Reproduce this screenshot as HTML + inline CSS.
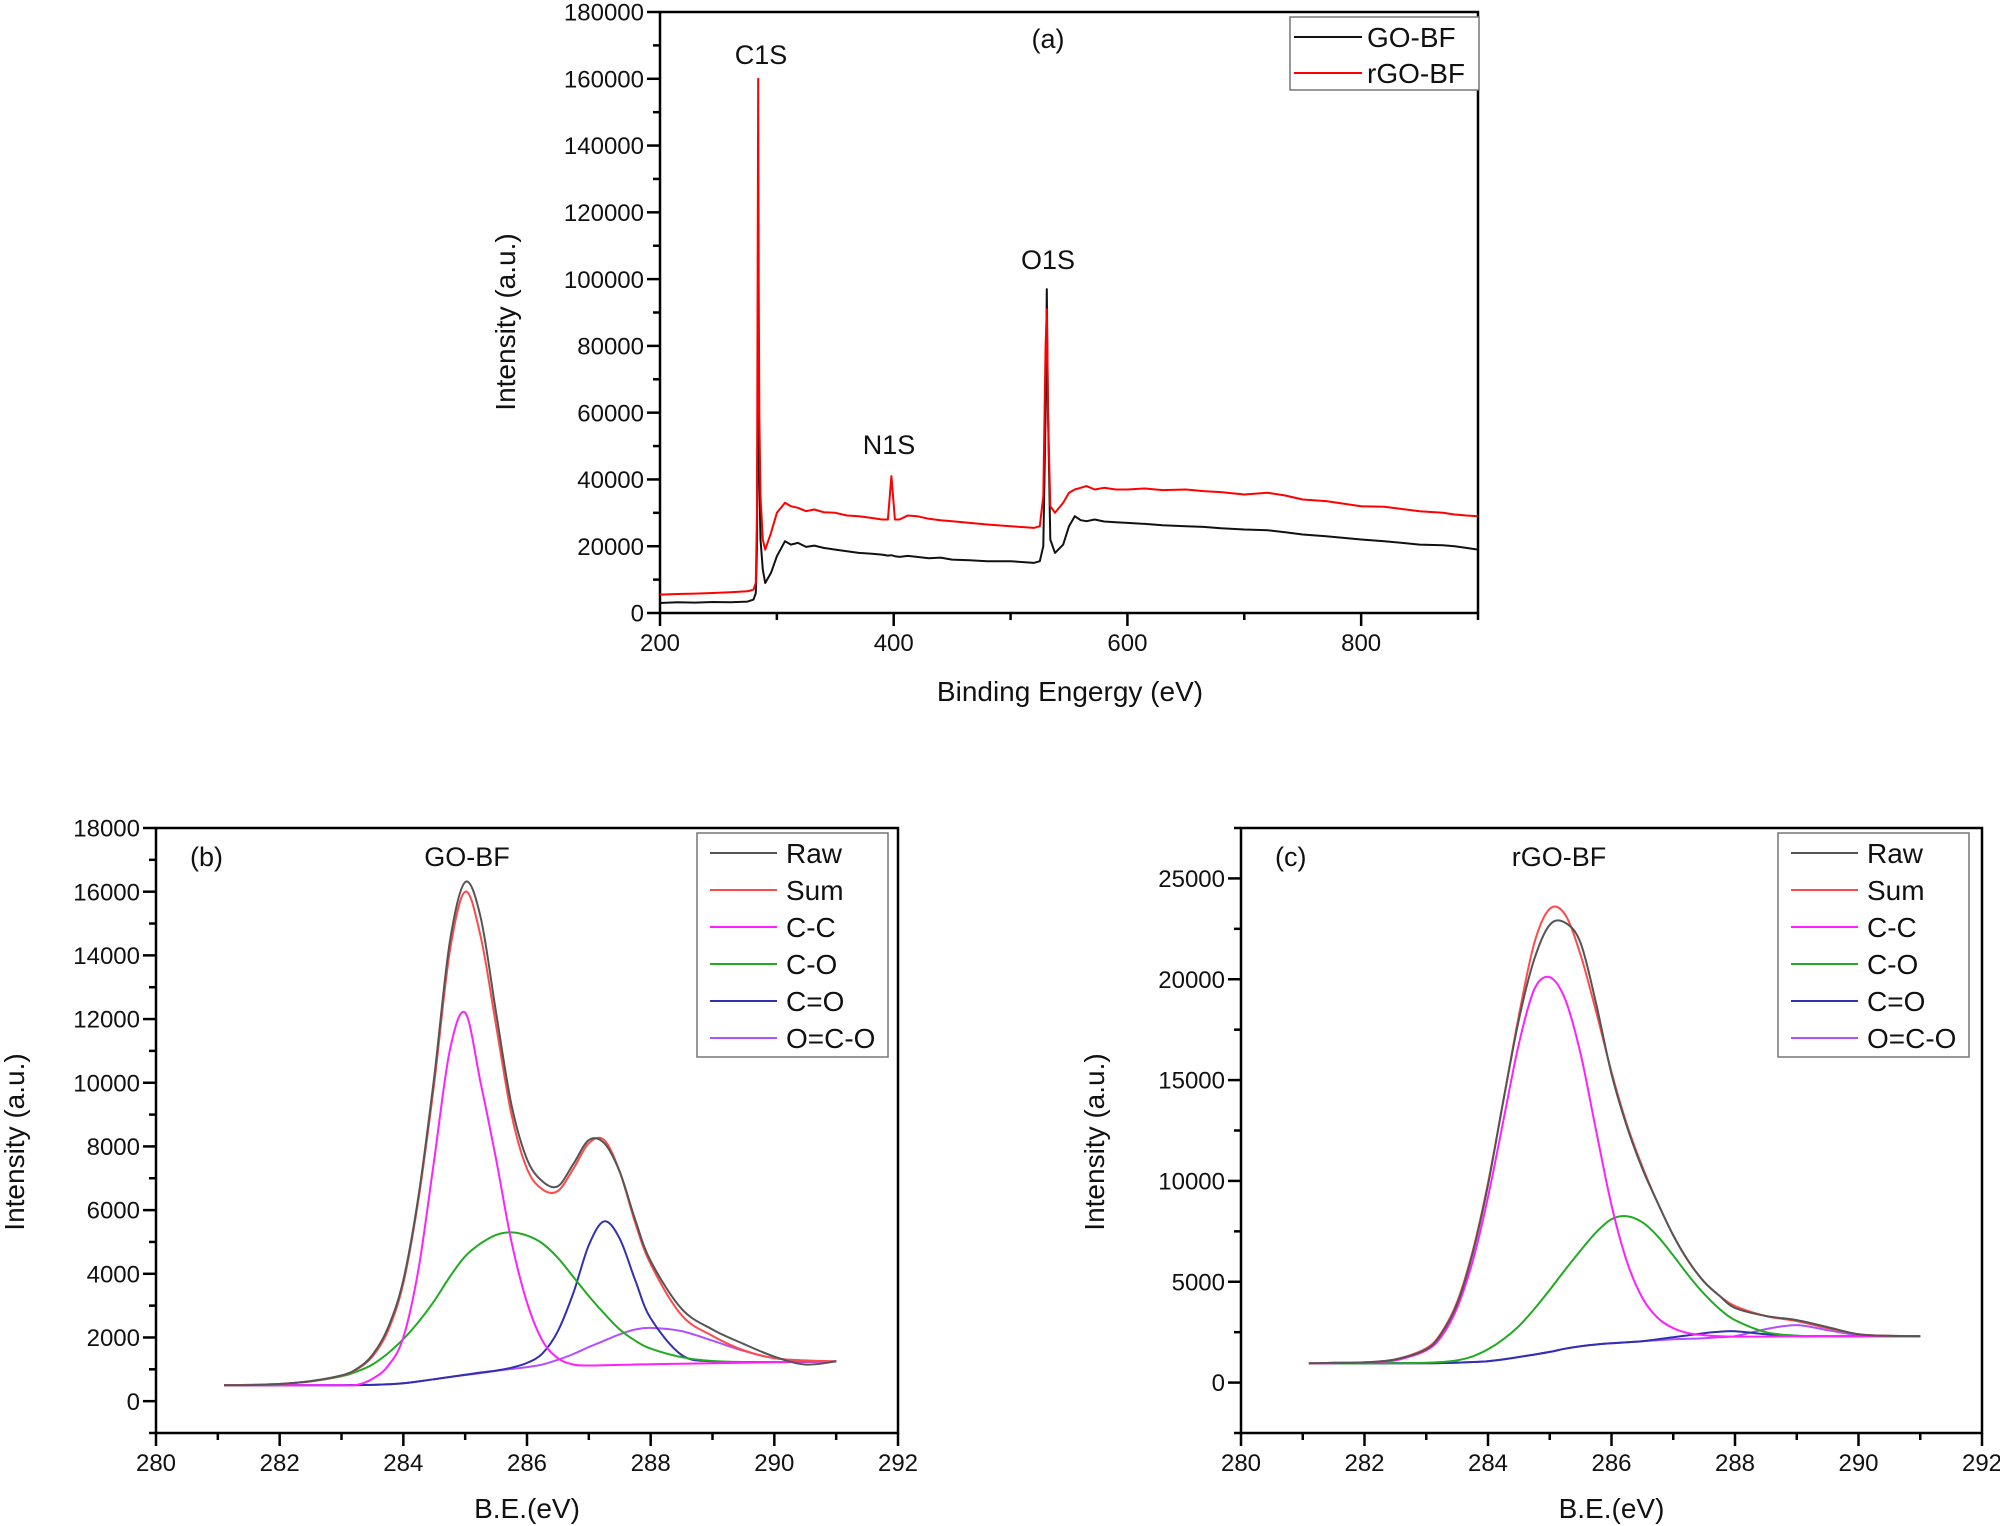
<!DOCTYPE html>
<html><head><meta charset="utf-8"><style>
html,body{margin:0;padding:0;background:#fff;}
svg{display:block;font-family:"Liberation Sans",Arial,sans-serif;}
</style></head><body>
<svg id="fig" width="2000" height="1526" viewBox="0 0 2000 1526" xmlns="http://www.w3.org/2000/svg">
<rect width="2000" height="1526" fill="#fff"/>
</svg>
<script>
// ---------- Panel (a) survey data ----------
const aX = [200,215,230,245,260,275,280,282,283,284,284.5,285,286,288,290,295,300,307,312,318,325,332,340,350,360,370,380,390,395,398,401,405,412,420,430,440,450,465,480,500,520,525,528,530,531,532,534,538,545,550,555,560,565,572,580,590,600,615,630,650,665,680,700,720,735,750,770,800,820,850,870,880,890,900];
const aGO = [3000,3200,3100,3300,3200,3400,4000,6000,20000,100000,60000,40000,22000,13000,9000,12000,17000,21500,20500,21000,19800,20200,19500,19000,18500,18000,17800,17500,17200,17300,17000,16800,17100,16800,16400,16600,16000,15800,15500,15500,15000,15500,20000,60000,97000,60000,22000,18000,20500,26000,29000,27800,27500,28000,27400,27200,27000,26700,26300,26000,25800,25400,25000,24800,24200,23500,23000,22000,21500,20500,20300,20000,19500,19000];
const aRGO = [5500,5700,5800,6000,6200,6500,7000,9000,30000,160000,100000,60000,35000,22000,19000,24000,30000,33000,32000,31500,30500,31000,30200,30000,29200,29000,28500,28000,28000,41000,28000,28000,29200,29000,28200,27800,27500,27000,26500,26000,25500,26000,35000,80000,91000,60000,32000,30000,33000,36000,37000,37500,38000,37000,37500,37000,37000,37300,36800,37000,36500,36200,35500,36000,35200,34000,33500,32000,31800,30500,30000,29500,29200,29000];
const aYTicks = [0,20000,40000,60000,80000,100000,120000,140000,160000,180000];
const aXTicks = [200,400,600,800];

// ---------- Panel (b) GO-BF ----------
const bX = [281.1,281.5,282,282.5,283,283.25,283.5,283.75,284,284.25,284.5,284.75,285,285.25,285.5,285.75,286,286.25,286.5,286.75,287,287.25,287.5,287.75,288,288.5,289,289.5,290,290.5,291];
const bRaw = [500,505,540,630,810,1020,1450,2300,3800,6500,10200,14400,16300,15200,12200,9300,7600,6900,6750,7450,8200,8100,7200,5700,4400,2900,2250,1800,1400,1150,1250];
const bSum = [500,510,540,620,800,1000,1400,2200,3700,6400,10000,14100,16000,14600,11800,9000,7300,6650,6600,7300,8100,8200,7200,5600,4300,2700,2050,1600,1350,1280,1250];
const bCC = [500,500,500,500,500,510,700,1100,2000,4200,7600,11000,12200,10000,7600,5000,3100,1900,1350,1150,1120,1130,1140,1150,1160,1175,1190,1205,1220,1235,1250];
const bCO = [500,510,540,620,780,930,1150,1500,1950,2500,3150,3900,4550,4950,5220,5300,5200,4950,4500,3900,3300,2750,2250,1900,1650,1380,1260,1230,1230,1230,1250];
const bCdO = [500,500,500,500,500,505,510,530,560,620,690,760,830,900,960,1050,1200,1500,2200,3400,4900,5650,5100,3800,2600,1450,1250,1230,1230,1240,1250];
const bOCO = [500,500,500,500,500,505,510,530,560,620,690,760,820,880,950,1010,1070,1150,1300,1480,1700,1900,2100,2250,2300,2200,1900,1580,1350,1270,1250];
const bYTicks = [0,2000,4000,6000,8000,10000,12000,14000,16000,18000];
const bXTicks = [280,282,284,286,288,290,292];

// ---------- Panel (c) rGO-BF ----------
const cX = bX;
const cRaw = [950,980,1000,1150,1650,2450,3900,6400,9800,14000,18000,21000,22700,22800,21800,18800,15300,12700,10600,8900,7300,6000,5000,4300,3700,3300,3100,2750,2400,2320,2300];
const cSum = [950,980,1000,1150,1700,2500,4000,6500,9900,14000,18200,21800,23500,23200,21200,18400,15400,12800,10700,8900,7300,6000,5000,4300,3800,3300,3050,2700,2400,2320,2300];
const cCC = [950,960,1000,1100,1600,2300,3700,6000,9200,13000,16800,19500,20100,19000,16300,12500,8800,6000,4200,3200,2700,2450,2350,2300,2280,2280,2290,2300,2300,2300,2300];
const cCO = [950,950,950,960,980,1020,1100,1300,1650,2150,2800,3650,4600,5600,6550,7450,8100,8250,7950,7250,6300,5300,4400,3650,3100,2500,2330,2300,2300,2300,2300];
const cCdO = [950,950,950,955,960,970,990,1020,1060,1150,1270,1390,1520,1680,1800,1890,1950,2000,2050,2150,2250,2350,2450,2520,2550,2400,2300,2300,2300,2300,2300];
const cOCO = [950,950,950,955,960,970,990,1020,1060,1150,1270,1390,1520,1680,1800,1890,1950,2000,2050,2100,2150,2170,2200,2250,2300,2650,2850,2600,2350,2300,2300];
const cYTicks = [0,5000,10000,15000,20000,25000];
const cXTicks = [280,282,284,286,288,290,292];

const legendNames = ['Raw','Sum','C-C','C-O','C=O','O=C-O'];
const colors = ['#555555','#ff4a4a','#ff20ff','#22aa22','#3030b0','#b050ff'];

const NS = 'http://www.w3.org/2000/svg';
const svg = document.getElementById('fig');
function mk(tag, attrs, parent, text){
  const e = document.createElementNS(NS, tag);
  for (const k in attrs) e.setAttribute(k, attrs[k]);
  if (text !== undefined) e.textContent = text;
  (parent||svg).appendChild(e);
  return e;
}
function scale(d0,d1,r0,r1){ return v => r0 + (v-d0)/(d1-d0)*(r1-r0); }
function linePath(xs, ys, sx, sy){
  let d='';
  for (let i=0;i<xs.length;i++) d += (i?'L':'M') + sx(xs[i]).toFixed(1)+','+sy(ys[i]).toFixed(1);
  return d;
}
function smoothPath(xs, ys, sx, sy){
  const P = xs.map((x,i)=>[sx(x), sy(ys[i])]);
  let d = 'M'+P[0][0].toFixed(1)+','+P[0][1].toFixed(1);
  for (let i=0;i<P.length-1;i++){
    const p0=P[Math.max(0,i-1)], p1=P[i], p2=P[i+1], p3=P[Math.min(P.length-1,i+2)];
    const c1=[p1[0]+(p2[0]-p0[0])/6, p1[1]+(p2[1]-p0[1])/6];
    const c2=[p2[0]-(p3[0]-p1[0])/6, p2[1]-(p3[1]-p1[1])/6];
    d += 'C'+c1[0].toFixed(1)+','+c1[1].toFixed(1)+' '+c2[0].toFixed(1)+','+c2[1].toFixed(1)+' '+p2[0].toFixed(1)+','+p2[1].toFixed(1);
  }
  return d;
}

function axes(g, box, sx, sy, xTicks, yTicks, xMinorStep, yMinorStep, xr, yr, fs){
  mk('rect',{x:box.l,y:box.t,width:box.r-box.l,height:box.b-box.t,fill:'none',stroke:'#000','stroke-width':2.5},g);
  const yt = mk('g',{},g);  
  for (let v=yr[0]; v<=yr[1]+1e-9; v+=yMinorStep){
    const y=sy(v); const major = yTicks.includes(Math.round(v));
    mk('line',{x1:box.l-(major?13:7),x2:box.l,y1:y,y2:y,stroke:'#000','stroke-width':2.5},yt);
  }
  yTicks.forEach(v=>{
    const t = mk('text',{x:box.l-16,y:sy(v)+fs*0.36,'text-anchor':'end','font-size':fs,fill:'#111'},yt,String(v));
     
  });
  const xt = mk('g',{},g);  
  for (let v=xr[0]; v<=xr[1]+1e-9; v+=xMinorStep){
    const x=sx(v); const major = xTicks.some(t=>Math.abs(t-v)<1e-6);
    mk('line',{x1:x,x2:x,y1:box.b,y2:box.b+(major?13:7),stroke:'#000','stroke-width':2.5},xt);
  }
  xTicks.forEach(v=>{
    const t = mk('text',{x:sx(v),y:box.b+38,'text-anchor':'middle','font-size':fs,fill:'#111'},xt,String(v));
     
  });
}

// ---------- Panel a ----------
(function(){
  const box={l:660,r:1478,t:12,b:613};
  const g = mk('g',{});  
  const sx=scale(200,900,box.l,box.r), sy=scale(0,180000,box.b,box.t);
  axes(g,box,sx,sy,aXTicks,aYTicks,100,10000,[200,900],[0,180000],24);
  const p1=mk('path',{d:linePath(aX,aGO,sx,sy),fill:'none',stroke:'#111','stroke-width':2,'stroke-linejoin':'round'},g);
   
  const p2=mk('path',{d:linePath(aX,aRGO,sx,sy),fill:'none',stroke:'#ff0000','stroke-width':2,'stroke-linejoin':'round'},g);
   
  const lab=[['C1S',761,64],['N1S',889,454],['O1S',1048,269],['(a)',1048,48]];
  lab.forEach(l=>{const t=mk('text',{x:l[1],y:l[2],'text-anchor':'middle','font-size':27,fill:'#111'},g,l[0]);
     });
  const lg=mk('g',{},g);  
  mk('rect',{x:1290,y:17,width:189,height:73,fill:'#fff',stroke:'#777','stroke-width':1.5},lg);
  [['GO-BF','#111',37],['rGO-BF','#ff0000',73]].forEach(e=>{
    mk('line',{x1:1294,x2:1362,y1:e[2],y2:e[2],stroke:e[1],'stroke-width':2},lg);
    const t=mk('text',{x:1367,y:e[2]+10,'font-size':28,fill:'#111'},lg,e[0]);
     
  });
  const yl=mk('text',{x:0,y:0,transform:'translate(515,322) rotate(-90)','text-anchor':'middle','font-size':28,fill:'#111'},g,'Intensity (a.u.)');
   
  const xl=mk('text',{x:1070,y:701,'text-anchor':'middle','font-size':28,fill:'#111'},g,'Binding Engergy (eV)');
   
})();

function fitPanel(name, box, yr, yTicks, yMinor, xs, series, tag, title, ylabX, legBox){
  const g = mk('g',{});  
  const sx=scale(280,292,box.l,box.r), sy=scale(yr[0],yr[1],box.b,box.t);
  axes(g,box,sx,sy,bXTicks,yTicks,1,yMinor,[280,292],yr,24);
  for (let i=series.length-1;i>=0;i--){
    const p=mk('path',{d:smoothPath(xs,series[i],sx,sy),fill:'none',stroke:colors[i],'stroke-width':2},g);
    
    
  }
  const t1=mk('text',{x:box.l+34,y:box.t+38,'font-size':27,fill:'#111'},g,tag);
   
  const t2=mk('text',{x:title[1],y:box.t+38,'text-anchor':'middle','font-size':27,fill:'#111'},g,title[0]);
   
  const lg=mk('g',{},g);  
  mk('rect',{x:legBox,y:833,width:191,height:224,fill:'#fff',stroke:'#777','stroke-width':1.5},lg);
  legendNames.forEach((n,i)=>{
    const y=853+i*37;
    mk('line',{x1:legBox+13,x2:legBox+80,y1:y,y2:y,stroke:colors[i],'stroke-width':2},lg);
    const t=mk('text',{x:legBox+89,y:y+10,'font-size':28,fill:'#111'},lg,n);
     
  });
  const yl=mk('text',{x:0,y:0,transform:'translate('+ylabX+',1142) rotate(-90)','text-anchor':'middle','font-size':28,fill:'#111'},g,'Intensity (a.u.)');
   
  const xl=mk('text',{x:(box.l+box.r)/2,y:1518,'text-anchor':'middle','font-size':28,fill:'#111'},g,'B.E.(eV)');
   
}
fitPanel('panel-b-go-bf',{l:156,r:898,t:828,b:1433},[-1000,18000],bYTicks,1000,bX,[bRaw,bSum,bCC,bCO,bCdO,bOCO],'(b)',['GO-BF',467],24,697);
fitPanel('panel-c-rgo-bf',{l:1241,r:1982,t:828,b:1433},[-2500,27500],cYTicks,2500,cX,[cRaw,cSum,cCC,cCO,cCdO,cOCO],'(c)',['rGO-BF',1559],1104,1778);
</script>
</body></html>
